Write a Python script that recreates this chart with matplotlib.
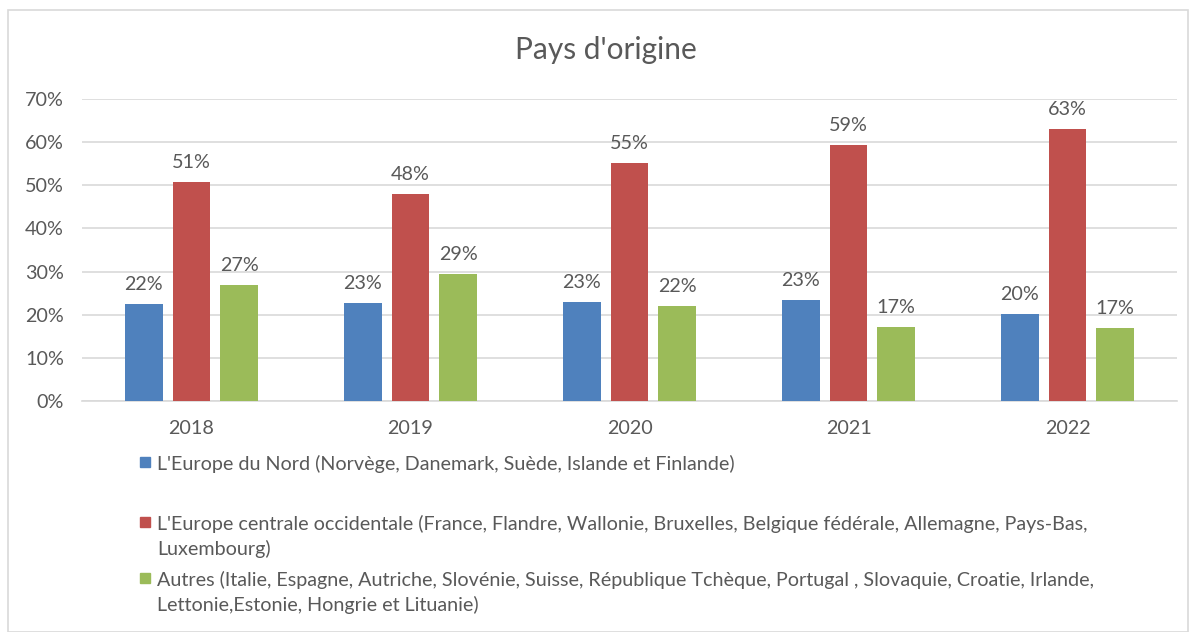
import numpy as np
import matplotlib.pyplot as plt
from matplotlib.patches import Rectangle

plt.rcParams['font.family'] = ['Lato', 'DejaVu Sans']

# data
years = ['2018', '2019', '2020', '2021', '2022']
nord = [22.5, 22.7, 23.0, 23.4, 20.2]
centrale = [50.8, 48.0, 55.2, 59.4, 63.0]
autres = [26.9, 29.4, 22.0, 17.2, 16.9]

series_names = [
    ["L'Europe du Nord (Norvège, Danemark, Suède, Islande et Finlande)"],
    ["L'Europe centrale occidentale (France, Flandre, Wallonie, Bruxelles, Belgique fédérale, Allemagne, Pays-Bas,",
     "Luxembourg)"],
    ["Autres (Italie, Espagne, Autriche, Slovénie, Suisse, République Tchèque, Portugal , Slovaquie, Croatie, Irlande,",
     "Lettonie,Estonie, Hongrie et Lituanie)"],
]
colors = ['#4f81bd', '#c0504d', '#9bbb59']
grey = '#595959'
fs = 14.2

fig = plt.figure(figsize=(11.92, 6.32), dpi=100)
W, H = 1192, 632

# outer chart border
fig.patches.append(Rectangle((8 / W, 0), 1180 / W, (H - 10) / H, transform=fig.transFigure,
                             fill=False, edgecolor='#d9d9d9', linewidth=1.2))

ax = fig.add_axes([82 / W, (H - 401) / H, 1095 / W, (401 - 99) / H])

x = np.arange(len(years))
width = 0.173
step = 0.218
for i, vals in enumerate([nord, centrale, autres]):
    bars = ax.bar(x + (i - 1) * step, vals, width, color=colors[i], zorder=3)
    for b, v in zip(bars, vals):
        ax.annotate(f'{round(v):d}%', (b.get_x() + b.get_width() / 2, v),
                    xytext=(0, 8), textcoords='offset points',
                    ha='center', va='bottom', fontsize=fs, color=grey)

ax.set_xlim(-0.5, len(years) - 0.5)
ax.set_ylim(0, 70)
ax.set_yticks(range(0, 71, 10))
ax.set_yticklabels([f'{t}%' for t in range(0, 71, 10)])
ax.set_xticks(x)
ax.set_xticklabels(years)
ax.tick_params(axis='y', length=0, pad=13, labelsize=fs, labelcolor=grey)
ax.tick_params(axis='x', length=0, pad=14, labelsize=fs, labelcolor=grey)
ax.grid(axis='y', color='#d9d9d9', linewidth=1.2, zorder=0)
for s in ['top', 'right', 'left']:
    ax.spines[s].set_visible(False)
ax.spines['bottom'].set_color('#d9d9d9')
ax.spines['bottom'].set_linewidth(1.2)

fig.text(606 / W, 1 - 50 / H, "Pays d'origine", ha='center', va='center',
         fontsize=21.5, color=grey)

# legend drawn by hand, one text per wrapped line
legend_y = [462, 522, 578]
for lines, c, y in zip(series_names, colors, legend_y):
    fig.patches.append(Rectangle((140 / W, 1 - (y + 5) / H), 10 / W, 10 / H,
                                 transform=fig.transFigure, color=c))
    for k, line in enumerate(lines):
        fig.text(157 / W, 1 - (y + 25 * k) / H, line, ha='left', va='center_baseline',
                 fontsize=fs, color=grey)

fig.savefig('out.png', dpi=100)
